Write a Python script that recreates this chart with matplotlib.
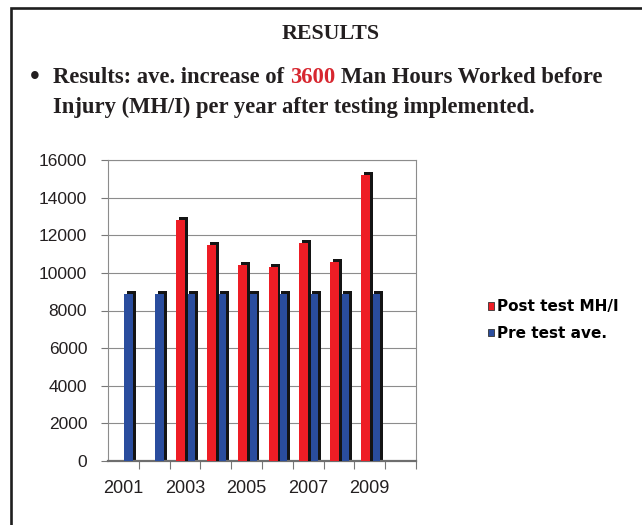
import numpy as np
import matplotlib
matplotlib.use("Agg")
import matplotlib.pyplot as plt
from matplotlib.patches import Patch, Rectangle

# ---------------- data ----------------
years = ['2001', '2002', '2003', '2004', '2005', '2006', '2007', '2008', '2009', '2010']
year_labels = ['2001', '', '2003', '', '2005', '', '2007', '', '2009', '']
post_test = [np.nan, np.nan, 12800, 11500, 10400, 10300, 11600, 10600, 15200, np.nan]
pre_test = [8900, 8900, 8900, 8900, 8900, 8900, 8900, 8900, 8900, np.nan]
series_names = ['Post test MH/I', 'Pre test ave.']
y_ticks = [0, 2000, 4000, 6000, 8000, 10000, 12000, 14000, 16000]

title = 'RESULTS'
bullet_parts = ['Results: ave. increase of ', '3600', ' Man Hours Worked before']
bullet_line2 = 'Injury (MH/I) per year after testing implemented.'

RED = '#EE1D25'
BLUE = '#2A4D9E'
SHADE = '#141414'
TXT = '#231F20'

W, H = 642, 525
fig = plt.figure(figsize=(W / 100, H / 100), dpi=100)
fig.patch.set_facecolor('white')

def fx(x):
    return x / W

def fy(y):
    return 1 - y / H

# frame border
fig.patches.append(Rectangle((fx(11.5), fy(540)), fx(660), fy(8) - fy(540),
                             transform=fig.transFigure, fill=False,
                             edgecolor='#1E1E1E', linewidth=1.9))

renderer = fig.canvas.get_renderer()
SERIF = 'Liberation Serif'

def text_width(s, size, **kw):
    t = fig.text(0, 0, s, fontsize=size, family=SERIF, weight='bold', **kw)
    w = t.get_window_extent(renderer).width
    t.remove()
    return w

# title
fs_t = 10 * 98 / text_width(title, 10)
fig.text(fx(331), fy(39), title, fontsize=fs_t, family=SERIF, weight='bold',
         color=TXT, ha='center', va='baseline')

# bullet text
full = ''.join(bullet_parts)
fs_b = 10 * 550 / text_width(full, 10)
x0 = 53
fig.text(fx(x0), fy(83), bullet_parts[0], fontsize=fs_b, family=SERIF,
         weight='bold', color=TXT, ha='left', va='baseline')
num_x = x0 + text_width(bullet_parts[0] + bullet_parts[1], fs_b) - text_width(bullet_parts[1], fs_b)
fig.text(fx(num_x), fy(83), bullet_parts[1], fontsize=fs_b, family=SERIF,
         weight='bold', color='#D7262F', ha='left', va='baseline')
first_word = bullet_parts[2].split()[0]
rest_x = x0 + text_width(bullet_parts[0] + bullet_parts[1] + ' ' + first_word, fs_b) - text_width(first_word, fs_b)
fig.text(fx(rest_x), fy(83), bullet_parts[2].lstrip(), fontsize=fs_b, family=SERIF,
         weight='bold', color=TXT, ha='left', va='baseline')
fig.text(fx(x0), fy(113), bullet_line2, fontsize=fs_b, family=SERIF,
         weight='bold', color=TXT, ha='left', va='baseline')
fig.text(fx(35), fy(77), '\u2022', fontsize=fs_b * 0.95, family='DejaVu Sans',
         weight='bold', color=TXT, ha='center', va='center')

# ---------------- chart ----------------
ax = fig.add_axes([fx(108), fy(461), fx(416) - fx(108), fy(160) - fy(461)])
x = np.arange(len(years))
post = np.array(post_test, dtype=float)
pre = np.array(pre_test, dtype=float)
mp = ~np.isnan(post)
mq = ~np.isnan(pre)

bw = 0.29
off_r, off_b = -0.14, 0.18
dx, dy = 0.09, 160

ax.bar(x[mq] + off_b + dx, pre[mq] + dy, width=bw, color=SHADE, zorder=2, linewidth=0)
ax.bar(x[mq] + off_b, pre[mq], width=bw, color=BLUE, zorder=3, linewidth=0)
ax.bar(x[mp] + off_r + dx, post[mp] + dy, width=bw, color=SHADE, zorder=4, linewidth=0)
ax.bar(x[mp] + off_r, post[mp], width=bw, color=RED, zorder=5, linewidth=0)

ax.set_xlim(-0.5, len(years) - 0.5)
ax.set_ylim(0, 16000)
ax.set_yticks(y_ticks)
ax.set_yticklabels([str(v) for v in y_ticks], family='Liberation Sans',
                   fontsize=12.5, color=TXT)
ax.set_xticks(x)
ax.set_xticklabels(year_labels, family='Liberation Sans', fontsize=13, color=TXT)
ax.tick_params(axis='x', length=0, pad=14)
ax.set_xticks(np.arange(len(years)) + 0.5, minor=True)
ax.tick_params(axis='x', which='minor', length=6, color='#777777', width=0.8, direction='out')
ax.tick_params(axis='y', length=5, color='#777777', width=0.8, pad=10)
ax.grid(axis='y', color='#8C8C8C', linewidth=0.8, zorder=0)
ax.set_axisbelow(True)
for s in ['top', 'right', 'left']:
    ax.spines[s].set_color('#8C8C8C')
    ax.spines[s].set_linewidth(0.8)
ax.spines['bottom'].set_color('#6E6E6E')
ax.spines['bottom'].set_linewidth(1.6)

handles = [Patch(facecolor=RED, edgecolor='#333333', linewidth=0.6),
           Patch(facecolor=BLUE, edgecolor='#333333', linewidth=0.6)]
fig.legend(handles, series_names, loc='upper left',
           bbox_to_anchor=(fx(488), fy(299)), frameon=False,
           prop={'family': 'DejaVu Sans', 'weight': 'bold', 'size': 11},
           handlelength=0.42, handleheight=0.42, handletextpad=0.15,
           labelspacing=0.78, borderaxespad=0, borderpad=0)

fig.savefig('out.png', dpi=100, facecolor='white')
